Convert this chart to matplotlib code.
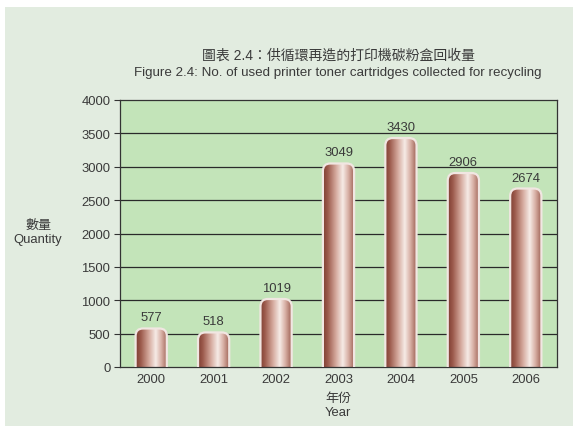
import numpy as np
import matplotlib
matplotlib.use("Agg")
import matplotlib.pyplot as plt
from matplotlib.patches import FancyBboxPatch, Rectangle
from matplotlib.colors import LinearSegmentedColormap

plt.rcParams['font.family'] = ['Liberation Sans', 'Noto Sans CJK TC']

years = ['2000', '2001', '2002', '2003', '2004', '2005', '2006']
counts = [577, 518, 1019, 3049, 3430, 2906, 2674]
y_ticks = [0, 500, 1000, 1500, 2000, 2500, 3000, 3500, 4000]

title_zh = '圖表 2.4：供循環再造的打印機碳粉盒回收量'
title_en = 'Figure 2.4: No. of used printer toner cartridges collected for recycling'

bg = '#e2ece0'
plot_bg = '#c3e4b9'
txt = '#3a3a3a'
fs = 9.4

fig = plt.figure(figsize=(5.77, 4.27), dpi=100)
fig.patch.set_facecolor('white')
fig.add_artist(Rectangle((5 / 577, 0), 568 / 577, 419 / 427,
                         transform=fig.transFigure, facecolor=bg,
                         edgecolor='none', zorder=-10))

ax = fig.add_axes([120 / 577, 1 - 368 / 427, 437 / 577, 267 / 427])
ax.set_zorder(1)
ax.set_facecolor(plot_bg)
ax.set_xlim(-0.5, len(years) - 0.5)
ax.set_ylim(0, 4000)
ax.set_yticks(y_ticks)
ax.set_yticklabels([str(v) for v in y_ticks], fontsize=fs, color=txt)
ax.set_xticks(range(len(years)))
ax.set_xticklabels(years, fontsize=fs, color=txt)
ax.tick_params(axis='x', length=0, pad=4)
ax.tick_params(axis='y', length=4, width=0.8, color='#333333', pad=3)
for s in ax.spines.values():
    s.set_color('#333333')
    s.set_linewidth(0.9)
for v in y_ticks[1:-1]:
    ax.axhline(v, color='#2a2a2a', lw=0.9, zorder=1)

# cylinder-like gradient for the bars
cmap = LinearSegmentedColormap.from_list('cyl', [
    (0.0, '#7e3f33'), (0.15, '#9c5a4c'), (0.4, '#d4a89c'),
    (0.62, '#f6ebe6'), (0.8, '#d7aea3'), (1.0, '#9a5c4f')])
grad = np.linspace(0, 1, 256).reshape(1, -1)

bw = 0.5
rx = 0.12
aspect = (4000 / 267) / (1 / 62.4)
for i, v in enumerate(counts):
    x0 = i - bw / 2
    patch = FancyBboxPatch((x0, -300), bw, v + 300,
                           boxstyle='round,pad=0,rounding_size=%f' % rx,
                           mutation_aspect=aspect,
                           facecolor='none', edgecolor='#f1e6e2', lw=1.6,
                           zorder=3)
    ax.add_patch(patch)
    im = ax.imshow(grad, cmap=cmap, aspect='auto',
                   extent=(x0, x0 + bw, 0, v), zorder=2)
    im.set_clip_path(patch)
    ax.text(i, v + 75, str(v), ha='center', va='bottom', fontsize=fs,
            color=txt, zorder=4)

ax.set_xlim(-0.5, len(years) - 0.5)
ax.set_ylim(0, 4000)

fig.text(338 / 577, 1 - 56 / 427, title_zh, ha='center', va='center',
         fontsize=10, color=txt)
fig.text(338 / 577, 1 - 73 / 427, title_en, ha='center', va='center',
         fontsize=9.6, color=txt)
fig.text(38 / 577, 1 - 233 / 427, '數量\nQuantity', ha='center',
         va='center', fontsize=fs, color=txt, linespacing=1.3)
fig.text(338 / 577, 1 - 406 / 427, '年份\nYear', ha='center',
         va='center', fontsize=fs, color=txt, linespacing=1.3)

fig.savefig('out.png', dpi=100, facecolor=fig.get_facecolor())
